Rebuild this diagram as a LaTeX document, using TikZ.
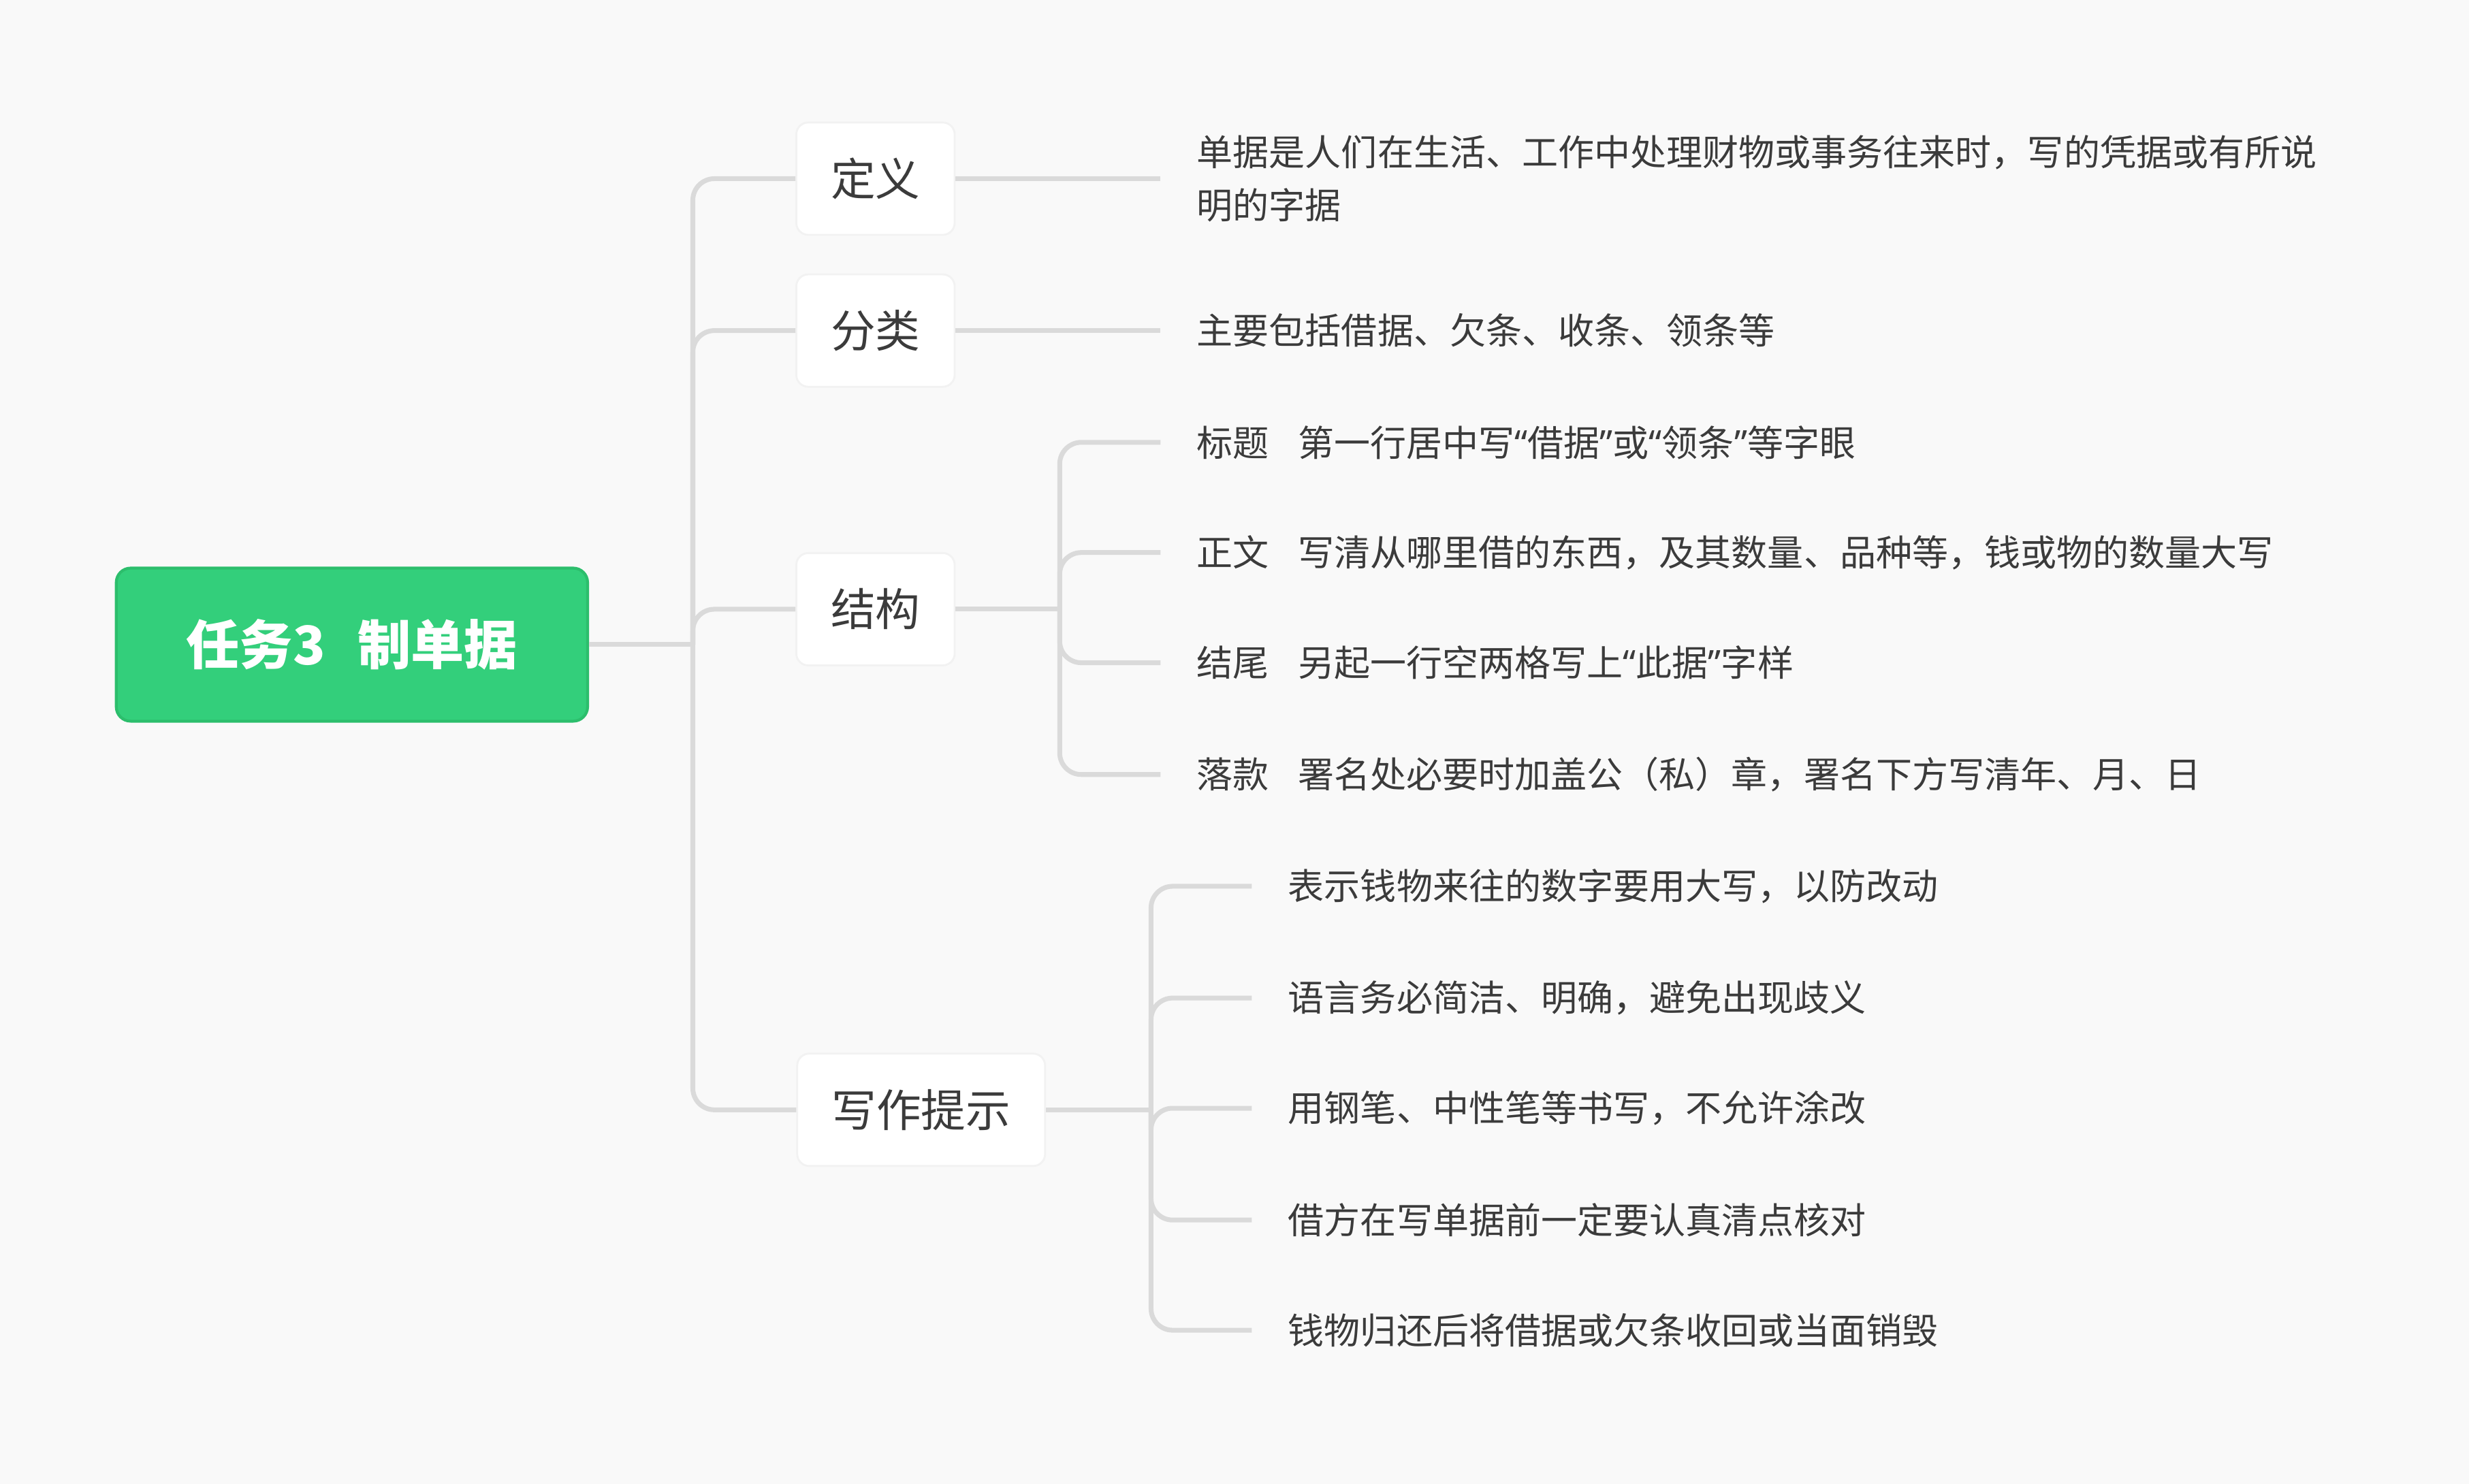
\documentclass[tikz,border=0pt]{standalone}
\usepackage{fontspec}
\setmainfont{Noto Sans CJK SC}
\newfontfamily\latinfont{Noto Sans}
\usepackage{tikz}
\definecolor{bgcol}{HTML}{F9F9F9}
\definecolor{linecol}{HTML}{DADADA}
\definecolor{txtcol}{HTML}{3B3B3B}
\definecolor{greenfill}{HTML}{33CF7B}
\definecolor{greenline}{HTML}{2CBE6C}
\newcommand{\oq}{{\latinfont “}}
\newcommand{\cq}{{\latinfont ”}}

\begin{document}
\begin{tikzpicture}[x=0.023125cm,y=-0.023125cm]
  \tikzset{topic/.style = {shape=rectangle,rounded corners=6pt,fill=greenfill,draw=greenline,line width=1.2pt,
      minimum width=197pt,minimum height=64pt,text=white,font=\fontsize{22.3pt}{26pt}\selectfont\bfseries}}
  \tikzset{branch/.style = {shape=rectangle,rounded corners=5pt,fill=white,draw=black!5,line width=0.8pt,inner xsep=14.4pt,
      minimum height=47pt,text=txtcol,font=\fontsize{18.7pt}{22pt}\selectfont}}
  \tikzset{leaf/.style = {anchor=west,inner xsep=15pt,inner ysep=0pt,align=left,text=txtcol,
      font=\fontsize{15.1pt}{22.3pt}\selectfont}}
  \tikzset{link/.style = {draw=linecol,line width=2pt,rounded corners=9pt}}

  \fill[bgcol] (0,0) rectangle (1568,942.7);
  \useasboundingbox (0,0) rectangle (1568,942.7);

	\node[topic] (root) at (223.5,409.5) {任务3\hspace{0.6em}制单据};
	\coordinate (hub) at (440,409.5);

	\node[branch] (def) at (556,113.5) {定义};
	\node[branch] (cls) at (556,210) {分类};
	\node[branch] (str) at (556,387) {结构};
	\node[branch] (tip) at (585,705) {写作提示};

	\node[leaf] (defl) at (737,113.5) {单据是人们在生活、工作中处理财物或事务往来时，写的凭据或有所说\\明的字据};
	\node[leaf] (clsl) at (737,210) {主要包括借据、欠条、收条、领条等};

	\coordinate (strhub) at (673,387);
	\node[leaf] (s1) at (737,281) {标题\hspace{0.8em}第一行居中写\oq 借据\cq 或\oq 领条\cq 等字眼};
	\node[leaf] (s2) at (737,351) {正文\hspace{0.8em}写清从哪里借的东西，及其数量、品种等，钱或物的数量大写};
	\node[leaf] (s3) at (737,421) {结尾\hspace{0.8em}另起一行空两格写上\oq 此据\cq 字样};
	\node[leaf] (s4) at (737,492) {落款\hspace{0.8em}署名处必要时加盖公（私）章，署名下方写清年、月、日};

	\coordinate (tiphub) at (731,705);
	\node[leaf] (t1) at (795,563) {表示钱物来往的数字要用大写，以防改动};
	\node[leaf] (t2) at (795,634) {语言务必简洁、明确，避免出现歧义};
	\node[leaf] (t3) at (795,704) {用钢笔、中性笔等书写，不允许涂改};
	\node[leaf] (t4) at (795,775) {借方在写单据前一定要认真清点核对};
	\node[leaf] (t5) at (795,845) {钱物归还后将借据或欠条收回或当面销毁};

    \draw[link] (root.east) -- (hub);
    \foreach \b in {def,cls,str,tip}
    \draw[link] (hub) |- (\b.west);
    \draw[link] (def.east) -- (defl.west);
    \draw[link] (cls.east) -- (clsl.west);
    \draw[link] (str.east) -- (strhub);
    \foreach \l in {s1,s2,s3,s4}
    \draw[link] (strhub) |- (\l.west);
    \draw[link] (tip.east) -- (tiphub);
    \foreach \l in {t1,t2,t3,t4,t5}
    \draw[link] (tiphub) |- (\l.west);
\end{tikzpicture}
\end{document}
